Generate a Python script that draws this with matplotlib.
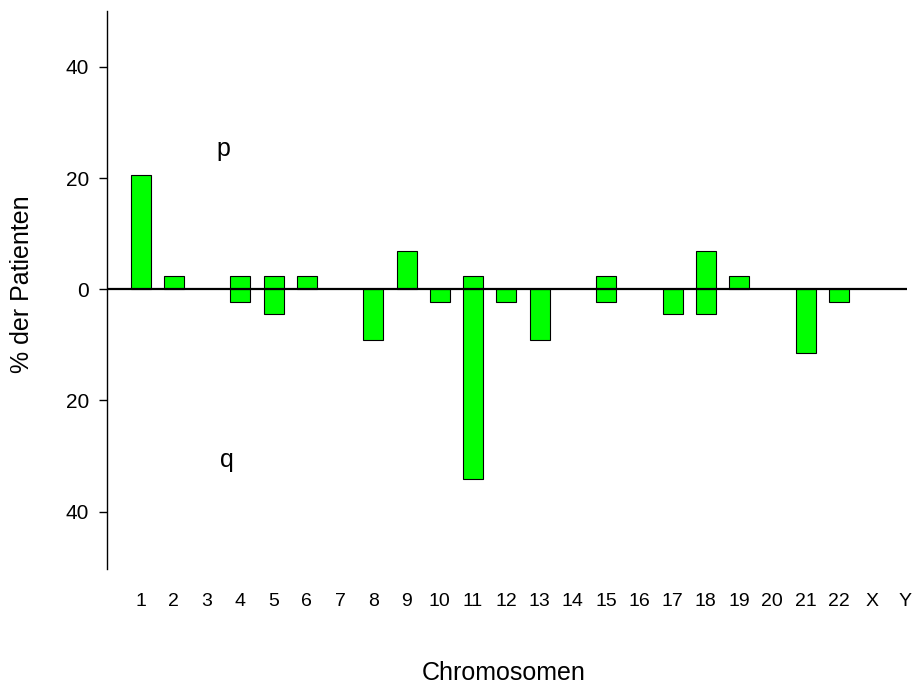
import numpy as np
import matplotlib
matplotlib.use("Agg")
import matplotlib.pyplot as plt

plt.rcParams['font.family'] = ['Liberation Sans', 'DejaVu Sans']

# chromosome arms, % of patients (p arm up, q arm down)
chroms = [str(i) for i in range(1, 23)] + ['X', 'Y']
p_pct = [20.5, 2.3, 0, 2.3, 2.3, 2.3, 0, 0, 6.8, 0, 2.3, 0,
         0, 0, 2.3, 0, 0, 6.8, 2.3, 0, 0, 0, 0, 0]
q_pct = [0, 0, 0, 2.3, 4.5, 0, 0, 9.1, 0, 2.3, 34.1, 2.3,
         9.1, 0, 2.3, 0, 4.5, 4.5, 0, 0, 11.4, 2.3, 0, 0]
y_ticks = [-40, -20, 0, 20, 40]

fig = plt.figure(figsize=(9.15, 6.86), dpi=100)
ax = fig.add_axes([0.1173, 0.1706, 0.874, 0.8138])

x = np.arange(1, len(chroms) + 1)
p = np.array(p_pct)
q = np.array(q_pct)
up = p > 0
down = q > 0
ax.bar(x[up], p[up], width=0.6, color='#00ff00', edgecolor='black', linewidth=0.8)
ax.bar(x[down], -q[down], width=0.6, color='#00ff00', edgecolor='black', linewidth=0.8)
ax.axhline(0, color='black', linewidth=1.6, zorder=3)

ax.set_xlim(0, 24.05)
ax.set_ylim(-50.3, 50.1)
ax.set_xticks(x)
ax.set_xticklabels(chroms)
ax.set_yticks(y_ticks)
ax.set_yticklabels([str(abs(v)) for v in y_ticks])
ax.tick_params(axis='x', length=0, pad=17.5, labelsize=14)
ax.tick_params(axis='y', length=5.8, width=1, pad=7.5, labelsize=15)

for s in ['top', 'right', 'bottom']:
    ax.spines[s].set_visible(False)
ax.spines['left'].set_linewidth(1)

ax.text(3.5, 24, 'p', fontsize=18, ha='center', va='baseline')
ax.text(3.6, -32, 'q', fontsize=18, ha='center', va='baseline')

fig.text(504 / 915, 1 - 680 / 686, 'Chromosomen', fontsize=18, ha='center', va='baseline')
fig.text(22.5 / 915, 1 - 284 / 686, '% der Patienten', fontsize=18, rotation=90,
         ha='center', va='center')

plt.savefig('out.png', dpi=100)
